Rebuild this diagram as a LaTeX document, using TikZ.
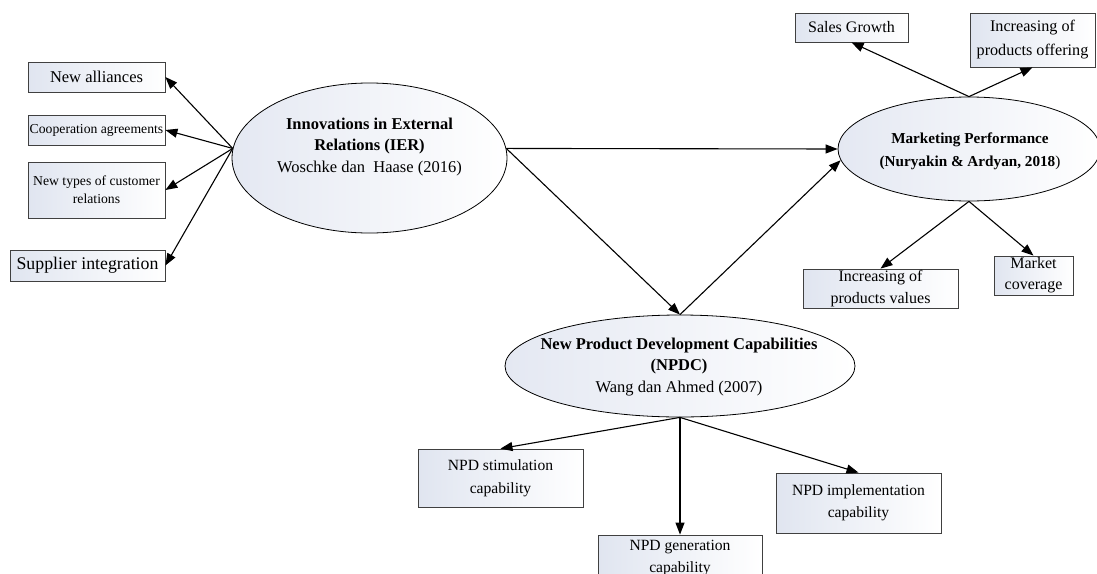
\documentclass[tikz,border=0pt]{standalone}
\usepackage{fontspec}
\setmainfont{Liberation Serif}
\usetikzlibrary{arrows.meta,shapes.geometric}
\definecolor{boxfill}{RGB}{224,229,240}
\definecolor{ellfill}{RGB}{228,232,242}
\tikzset{
  box/.style={draw=black!75,line width=0.8pt,left color=boxfill,right color=white,align=center,inner sep=0pt,font=\fontsize{16}{22}\selectfont},
  latent/.style={ellipse,draw=black,line width=0.8pt,left color=ellfill,right color=white,inner sep=0pt},
  lattext/.style={align=center,inner sep=0pt,font=\fontsize{16.5}{21.5}\selectfont},
  arr/.style={-{Triangle[length=12pt,width=9pt]},line width=1.1pt}
}

\begin{document}
\begin{tikzpicture}[x=1pt,y=-1pt]
\useasboundingbox (0,0) rectangle (1097,573);
\clip (0,0) rectangle (1097,573);
%Построение эллипсов
\node [latent,minimum width=275pt,minimum height=150pt] (ier) at (369.5,158) {};
\node [latent,minimum width=262pt,minimum height=104pt] (mp) at (969,149) {};
\node [latent,minimum width=350pt,minimum height=102pt] (npdc) at (680,366) {};
\node [lattext] (iertext) at (369.5,147) {\textbf{Innovations in External}\\\textbf{Relations (IER)}\\Woschke dan\ \ Haase (2016)};
\node [lattext,font=\fontsize{15.2}{23}\selectfont] (mptext) at (970,151) {\textbf{Marketing Performance}\\\textbf{(Nuryakin \& Ardyan, 2018})};
\node [lattext] (npdctext) at (679,367) {\textbf{New Product Development Capabilities}\\\textbf{(NPDC)}\\Wang dan Ahmed (2007)};
%Индикаторы IER
\node [box,minimum width=137pt,minimum height=30pt,font=\fontsize{16.5}{20}\selectfont] (na) at (96.5,77) {New alliances};
\node [box,minimum width=137pt,minimum height=30pt,font=\fontsize{13.7}{18}\selectfont] (ca) at (96.5,130) {Cooperation agreements};
\node [box,minimum width=137pt,minimum height=56pt,font=\fontsize{13.7}{18}\selectfont] (nt) at (96.5,190) {New types of customer\\relations};
\node [box,minimum width=155pt,minimum height=31pt,font=\fontsize{17.8}{22}\selectfont] (si) at (87.5,265.5) {Supplier integration};
%Индикаторы MP
\node [box,minimum width=113pt,minimum height=29pt] (sg) at (851.5,27.5) {Sales Growth};
\node [box,minimum width=125pt,minimum height=54pt,font=\fontsize{16.2}{24}\selectfont] (po) at (1032.5,40) {Increasing of\\products offering};
\node [box,minimum width=155pt,minimum height=39pt] (pv) at (880.5,288.5) {Increasing of\\products values};
\node [box,minimum width=79pt,minimum height=39pt,font=\fontsize{16}{21}\selectfont] (mc) at (1033.5,275.5) {Market\\coverage};
%Индикаторы NPDC
\node [box,minimum width=165pt,minimum height=58pt,font=\fontsize{15.6}{23}\selectfont] (stim) at (500.5,478) {NPD stimulation\\capability};
\node [box,minimum width=164pt,minimum height=47pt,font=\fontsize{15.6}{22}\selectfont] (gen) at (680,558.5) {NPD generation\\capability};
\node [box,minimum width=165pt,minimum height=60pt,font=\fontsize{15.6}{22}\selectfont] (impl) at (858.5,503) {NPD implementation\\capability};
%Стрелки
\draw [arr] (ier.176) -- (na.east);
\draw [arr] (ier.176) -- (ca.east);
\draw [arr] (ier.176) -- (nt.east);
\draw [arr] (ier.176) -- (si.east);
\draw [arr] (ier.4) -- (mp.west);
\draw [arr] (ier.4) -- (npdc.north);
\draw [arr] (npdc.north) -- (mp.185);
\draw [arr] (mp.north) -- (sg.south);
\draw [arr] (mp.north) -- (po.south);
\draw [arr] (mp.south) -- (pv.north);
\draw [arr] (mp.south) -- (mc.north);
\draw [arr] (npdc.south) -- (stim.north);
\draw [arr] (npdc.south) -- (gen.north);
\draw [arr] (npdc.south) -- (impl.north);
\end{tikzpicture}
\end{document}
